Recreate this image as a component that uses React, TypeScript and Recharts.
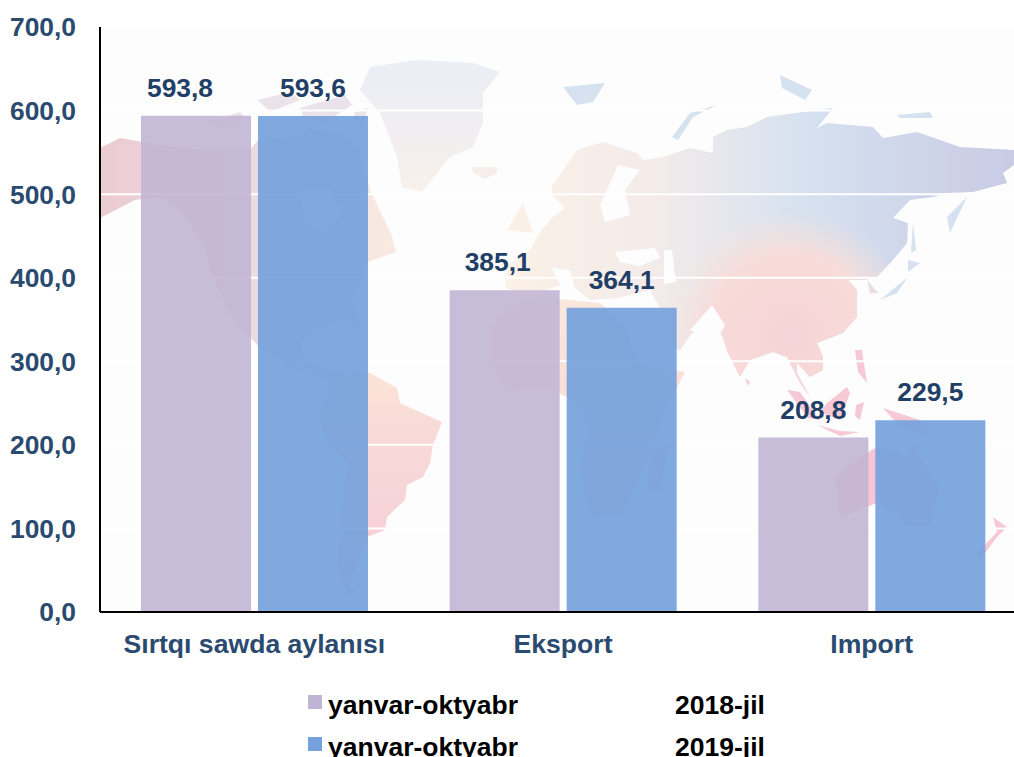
import { BarChart, Bar, CartesianGrid, LabelList, Legend, XAxis, YAxis } from "recharts";

const categories = ["Sırtqı sawda aylanısı", "Eksport", "Import"];
const values2018 = [593.8, 385.1, 208.8];
const values2019 = [593.6, 364.1, 229.5];
const yTicks = [0, 100, 200, 300, 400, 500, 600, 700];
const seriesNames = ["yanvar-oktyabr 2018-jil", "yanvar-oktyabr 2019-jil"];

const data = categories.map((name, i) => ({ name, a: values2018[i], b: values2019[i] }));

const FONT = "'Liberation Sans', Arial, sans-serif";
const NAVY = "#1f3f66";
const fmt = (v: number) => v.toFixed(1).replace(".", ",");

// the source chart has a couple of labels pushed left of their bars
const nudge2018 = [-16, -7, 0];

function valueLabel(nudge: number[]) {
  return (p: any) => (
    <text
      x={p.x + p.width / 2 + (nudge[p.index] ?? 0)}
      y={p.y - 19}
      textAnchor="middle"
      fontFamily={FONT}
      fontWeight="bold"
      fontSize={26.4}
      fill={NAVY}
    >
      {fmt(p.value)}
    </text>
  );
}

function LegendBox({ payload }: any) {
  return (
    <div style={{ fontFamily: FONT, fontWeight: "bold", fontSize: 26.5, color: "#000" }}>
      {(payload ?? []).map((e: any, i: number) => {
        const [period, year] = String(e.value).split(" ");
        return (
          <div key={i} style={{ position: "absolute", left: 0, top: i * 42, width: 600, height: 42, lineHeight: "42px" }}>
            <span style={{ position: "absolute", left: 0, top: 11, width: 14, height: 14, background: e.color }} />
            <span style={{ position: "absolute", left: 20, top: 0, whiteSpace: "nowrap" }}>{period}</span>
            <span style={{ position: "absolute", left: 367, top: 0, whiteSpace: "nowrap" }}>{year}</span>
          </div>
        );
      })}
    </div>
  );
}

// pale decorative world map behind the plot
const landEast =
  "M505 288L508 265L530 250L540 232L552 218L565 208L552 195L552 186L577 150L603 142L637 153L643 160L663 157L690 148L713 153L713 137L727 130L747 127L767 117L833 108L817 128L827 123L873 127L883 138L917 132L960 147L1014 150L1014 165L1003 173L1007 183L973 192L947 193L933 197L910 200L893 218L908 223L907 243L893 260L877 277L867 277L870 293L878 293L867 280L848 280L857 290L857 317L843 333L817 343L823 357L823 370L810 377L797 363L797 373L810 397L800 383L787 357L773 352L750 360L740 377L728 353L722 335L692 333L680 350L650 345L632 312L660 308L650 290L618 298L590 300L575 288L570 270L552 268L560 285L530 296Z";
const landNorthAmerica =
  "M100 148L120 138L165 146L205 150L250 150L262 135L290 140L310 128L345 135L360 150L370 190L392 236L396 252L368 262L352 300L362 336L345 318L318 330L300 342L305 362L345 372L332 380L300 372L262 350L232 318L210 270L205 245L178 208L160 197L135 200L100 218Z";
const landSouthAmerica =
  "M330 373L347 370L370 373L397 388L400 403L442 422L433 445L430 463L423 477L407 485L405 500L387 517L385 530L367 537L360 560L348 587L360 592L348 595L337 570L340 527L348 463L330 447L318 418L330 387Z";
const landAfrica =
  "M490 330L510 305L550 298L600 303L622 322L640 366L685 372L660 420L648 460L622 514L592 516L580 470L590 422L570 398L543 387L510 392L490 363Z";
const landAustralia =
  "M835 477L860 457L877 447L885 450L910 457L913 443L940 490L930 527L907 527L897 513L877 503L840 517Z";
const islandsPink = [
  "M827 403L847 387L850 393L840 420L820 412Z",
  "M787 390L800 392L820 420L808 418Z",
  "M817 425L840 431L860 432L840 436Z",
  "M883 408L920 420L935 438L900 427Z",
  "M855 350L862 350L867 383L858 372Z",
  "M856 405L864 402L860 420L855 416Z",
  "M650 450L668 446L660 490L648 490Z",
  "M993 517L1007 527L997 537L980 560L977 553L997 532Z",
  "M745 378L750 382L748 386Z",
];
const islandsBlue = [
  "M563 87L605 83L593 102L577 105Z",
  "M717 105L690 113L672 137L678 140L693 117Z",
  "M780 75L812 90L805 100L782 88Z",
  "M897 115L930 112L933 118L900 118Z",
  "M947 217L967 197L950 233Z",
  "M913 223L916 250L911 253Z",
  "M908 260L920 263L908 272Z",
  "M908 277L897 293L880 300L892 290Z",
];
const islandsArctic = [
  "M210 122L240 112L246 118L222 128Z",
  "M258 100L290 92L300 100L270 112Z",
  "M300 108L345 95L352 105L325 122L305 120Z",
  "M355 112L368 108L362 126L352 126Z",
];
// seas cut back out of the land shapes
const seas = [
  "M300 190L330 188L342 215L322 232L305 222Z",
  "M600 205L618 165L640 170L625 190L630 215L605 222Z",
  "M615 252L655 248L660 258L640 266L620 262Z",
  "M664 250L672 250L676 282L664 284Z",
  "M690 330L712 305L725 325L715 345Z",
];

function WorldMap() {
  return (
    <svg width={1014} height={757} style={{ position: "absolute", left: 0, top: 0 }}>
      <defs>
        <linearGradient id="gEur" gradientUnits="userSpaceOnUse" x1="500" y1="0" x2="1014" y2="0">
          <stop offset="0%" stopColor="#fbf1e7" />
          <stop offset="30%" stopColor="#f3ebe9" />
          <stop offset="58%" stopColor="#d6e2f0" />
          <stop offset="100%" stopColor="#c8cbe4" />
        </linearGradient>
        <radialGradient id="gSouth" gradientUnits="userSpaceOnUse" cx="790" cy="335" r="125">
          <stop offset="0%" stopColor="#f7d3d6" />
          <stop offset="65%" stopColor="#f7dcd9" />
          <stop offset="100%" stopColor="#f7e3dc" stopOpacity={0} />
        </radialGradient>
        <linearGradient id="gNam" gradientUnits="userSpaceOnUse" x1="100" y1="0" x2="400" y2="0">
          <stop offset="0%" stopColor="#eccbd2" />
          <stop offset="45%" stopColor="#ead9e1" />
          <stop offset="100%" stopColor="#f9ebe1" />
        </linearGradient>
        <linearGradient id="gSam" gradientUnits="userSpaceOnUse" x1="0" y1="370" x2="0" y2="600">
          <stop offset="0%" stopColor="#fbe5d6" />
          <stop offset="30%" stopColor="#f8d9d8" />
          <stop offset="100%" stopColor="#f7ccd5" />
        </linearGradient>
        <linearGradient id="gGreen" gradientUnits="userSpaceOnUse" x1="0" y1="60" x2="0" y2="190">
          <stop offset="0%" stopColor="#ebeef6" />
          <stop offset="60%" stopColor="#f1eef0" />
          <stop offset="100%" stopColor="#f8f0ea" />
        </linearGradient>
        <linearGradient id="gAfr" gradientUnits="userSpaceOnUse" x1="0" y1="300" x2="0" y2="520">
          <stop offset="0%" stopColor="#fae8dc" />
          <stop offset="100%" stopColor="#f6d3d5" />
        </linearGradient>
      </defs>
      <rect x={100} y={28} width={914} height={584} fill="#fdfdfe" />
      <path d={landNorthAmerica} fill="url(#gNam)" />
      <path d={landSouthAmerica} fill="url(#gSam)" />
      <path d={landAfrica} fill="url(#gAfr)" />
      <path d={landEast} fill="url(#gEur)" />
      <path d={landEast} fill="url(#gSouth)" />
      <path d={landAustralia} fill="#f6c6d3" />
      <path d="M360 90L370 67L417 60L473 63L500 72L483 93L483 123L473 147L450 157L422 192L402 187L397 157L380 113Z" fill="url(#gGreen)" />
      <path d="M472 167L497 167L497 173L485 179L473 173Z" fill="#f7eeeb" />
      <path d="M507 230L523 203L533 233Z" fill="#fbf0e6" />
      {seas.map((d, i) => (
        <path key={i} d={d} fill="#fdfdfe" />
      ))}
      {islandsArctic.map((d, i) => (
        <path key={i} d={d} fill="#ebe3ea" />
      ))}
      {islandsPink.map((d, i) => (
        <path key={i} d={d} fill="#f6c9d5" />
      ))}
      {islandsBlue.map((d, i) => (
        <path key={i} d={d} fill="#d6e2ef" />
      ))}
    </svg>
  );
}

export default function App() {
  return (
    <div style={{ position: "absolute", left: 0, top: 0, width: 1014, height: 757, overflow: "hidden", background: "#fff" }}>
      <WorldMap />
      <div style={{ position: "absolute", left: 0, top: 0 }}>
        <BarChart
          width={1026}
          height={757}
          data={data}
          margin={{ top: 27, right: 0, bottom: 0, left: 0 }}
          barSize={110}
          barGap={7}
        >
          <CartesianGrid horizontal vertical={false} stroke="#fff" strokeWidth={2} />
          <XAxis
            dataKey="name"
            height={145}
            axisLine={{ stroke: "#000", strokeWidth: 2 }}
            tickLine={false}
            tickMargin={16}
            interval={0}
            tick={{ fontFamily: FONT, fontWeight: "bold", fontSize: 26.6, fill: "#2a4a70" }}
          />
          <YAxis
            width={100}
            domain={[0, 700]}
            ticks={yTicks}
            tickFormatter={fmt}
            axisLine={{ stroke: "#000", strokeWidth: 2 }}
            tickLine={false}
            tickSize={0}
            tickMargin={24}
            tick={{ fontFamily: FONT, fontWeight: "bold", fontSize: 26.4, fill: "#2a4a70" }}
          />
          {/* zero-size wrapper so the legend takes no room from the plot */}
          <Legend
            layout="horizontal"
            verticalAlign="top"
            align="left"
            content={<LegendBox />}
            wrapperStyle={{ left: 308, top: 684, width: 0, height: 0 }}
          />
          <Bar dataKey="a" name={seriesNames[0]} fill="#c0b4d4" fillOpacity={0.88} isAnimationActive={false}>
            <LabelList dataKey="a" content={valueLabel(nudge2018)} />
          </Bar>
          <Bar dataKey="b" name={seriesNames[1]} fill="#75a2dc" fillOpacity={0.92} isAnimationActive={false}>
            <LabelList dataKey="b" content={valueLabel([])} />
          </Bar>
        </BarChart>
      </div>
    </div>
  );
}
